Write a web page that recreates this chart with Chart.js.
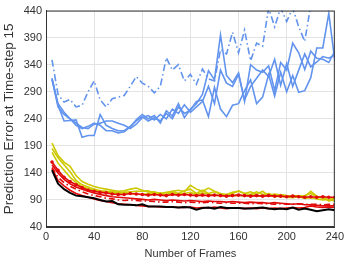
<!DOCTYPE html>
<html>
<head>
<meta charset="utf-8">
<script src="https://cdn.jsdelivr.net/npm/chart.js@4"></script>
<style>
  html, body { margin: 0; padding: 0; background: #fff; }
  #wrap { width: 347px; height: 263px; }
</style>
</head>
<body>
<div id="wrap"><canvas id="chart"></canvas></div>
<script>
const frames = [5, 10, 15, 20, 25, 30, 35, 40, 45, 50, 55, 60, 65, 70, 75, 80, 85, 90, 95, 100,
  105, 110, 115, 120, 125, 130, 135, 140, 145, 150, 155, 160, 165, 170, 175, 180, 185, 190, 195, 200,
  205, 210, 215, 220, 225, 230, 235, 240];

const blueDash = [349, 285, 271, 276, 262, 265, 290, 310, 275, 262, 277, 280, 283, 300, 318, 306, 300, 288, 300, 353,
  330, 340, 310, 322, 304, 332, 314, 310, 368, 360, 400, 362, 404, 347, 380, 374, 445, 410, 445, 420,
  445, 410, 383, 450, 460, 460, 460, 460];
const blue1 = [315, 262, 248, 240, 228, 222, 226, 232, 228, 218, 218, 214, 216, 225, 238, 248, 240, 246, 232, 255,
  245, 268, 242, 258, 268, 285, 329, 312, 395, 320, 307, 325, 272, 340, 330, 326, 338, 292, 344, 330,
  380, 362, 331, 365, 352, 350, 344, 365];
const blue2 = [312, 265, 236, 237, 238, 206, 209, 209, 248, 228, 222, 218, 218, 226, 236, 244, 236, 242, 236, 250,
  240, 262, 250, 256, 272, 275, 244, 298, 258, 244, 265, 268, 292, 312, 268, 280, 322, 282, 326, 290,
  320, 289, 292, 316, 371, 371, 435, 347];
const blue3 = [314, 268, 252, 240, 232, 224, 222, 230, 232, 236, 236, 232, 228, 222, 230, 242, 246, 238, 248, 240,
  258, 250, 266, 252, 262, 272, 300, 268, 330, 306, 300, 322, 275, 300, 315, 330, 318, 350, 302, 342,
  300, 330, 360, 336, 345, 355, 352, 358];

const yellow1 = [195, 172, 160, 152, 135, 124, 119, 115, 112, 110, 108, 106, 107, 110, 112, 108, 105, 105, 102, 104,
  106, 108, 105, 117, 110, 106, 112, 106, 102, 100, 104, 106, 102, 100, 105, 100, 102, 98, 100, 98,
  97, 98, 96, 106, 97, 93, 95, 91];
const yellow2 = [185, 168, 155, 142, 126, 118, 114, 110, 107, 106, 105, 104, 104, 105, 106, 106, 107, 102, 103, 100,
  106, 102, 107, 110, 102, 108, 102, 105, 101, 99, 102, 107, 102, 105, 100, 106, 98, 101, 99, 96,
  98, 97, 98, 102, 96, 96, 88, 92];
const yellow3 = [178, 158, 145, 132, 122, 114, 111, 108, 106, 104, 103, 101, 104, 102, 101, 100, 102, 103, 100, 99,
  103, 101, 102, 104, 100, 103, 101, 99, 98, 100, 98, 99, 97, 100, 98, 97, 99, 96, 97, 95,
  94, 96, 93, 94, 92, 90, 91, 88];

const red1 = [160, 145, 132, 124, 118, 113, 108, 106, 104, 103, 101, 100, 100, 102, 101, 100, 99, 100, 99, 98,
  100, 99, 100, 99, 98, 99, 98, 99, 98, 97, 98, 99, 98, 97, 98, 97, 98, 97, 97, 96,
  97, 96, 95, 96, 95, 96, 95, 95];
const red2 = [155, 140, 128, 120, 114, 110, 106, 103, 100, 98, 96, 95, 94, 93, 92, 91, 90, 91, 90, 89,
  90, 89, 88, 89, 88, 87, 88, 87, 87, 86, 87, 86, 85, 86, 85, 85, 84, 85, 84, 83,
  82, 83, 81, 81, 80, 79, 79, 79];
const redDash = [150, 132, 122, 115, 110, 105, 101, 98, 96, 93, 92, 90, 89, 90, 89, 88, 88, 87, 86, 86,
  87, 86, 85, 86, 85, 85, 86, 85, 84, 85, 84, 84, 84, 83, 84, 83, 83, 82, 83, 82,
  82, 83, 82, 82, 82, 81, 82, 82];
const red3 = [148, 126, 116, 108, 102, 98, 95, 92, 89, 87, 85, 83, 82, 81, 80, 79, 78, 78, 77, 77,
  77, 76, 76, 77, 75, 76, 75, 77, 75, 74, 75, 75, 74, 75, 74, 75, 74, 75, 74, 75,
  76, 75, 76, 79, 77, 76, 77, 76];

const black1 = [145, 120, 110, 103, 98, 97, 95, 93, 90, 87, 88, 82, 81, 81, 80, 82, 78, 78, 78, 77,
  77, 76, 77, 76, 72, 75, 76, 74, 77, 75, 75, 75, 74, 74, 75, 76, 74, 73, 74, 73,
  76, 72, 74, 72, 69, 71, 73, 71];

const xTicks = [0, 40, 80, 120, 160, 200, 240];
const yTicks = [40, 90, 140, 190, 240, 290, 340, 390, 440];

const BLUE = "rgb(98, 148, 238)";
const YELLOW = "rgb(205, 200, 0)";
const RED = "rgb(225, 10, 10)";

function series(values, color, extra) {
  return Object.assign({
    data: values.map((v, i) => ({ x: frames[i], y: v })),
    borderColor: color,
    backgroundColor: color,
    borderWidth: 1.6,
    pointRadius: 0,
    tension: 0,
    fill: false,
  }, extra || {});
}

const boxPlugin = {
  id: "box",
  afterDraw(chart) {
    const a = chart.chartArea;
    const ctx = chart.ctx;
    ctx.save();
    ctx.strokeStyle = "#333";
    ctx.lineWidth = 1;
    ctx.strokeRect(a.left + 0.5, a.top + 0.5, a.right - a.left - 1, a.bottom - a.top - 1);
    ctx.restore();
  },
};

const data = {
  datasets: [
    series(black1, "#000", { borderWidth: 2 }),
    series(red3, RED),
    series(redDash, RED, { borderDash: [6, 3, 1.5, 3] }),
    series(red2, RED),
    series(red1, RED, { pointRadius: 1 }),
    series(yellow3, YELLOW),
    series(yellow2, YELLOW),
    series(yellow1, YELLOW),
    series(blue3, BLUE),
    series(blue2, BLUE),
    series(blue1, BLUE),
    series(blueDash, BLUE, { borderDash: [7, 3, 1.5, 3] }),
  ],
};

const tickFont = { family: "'Liberation Sans', Arial, sans-serif", size: 11 };
const yTitleFont = { family: "'Liberation Sans', Arial, sans-serif", size: 13.5 };

const config = {
  type: "line",
  data: data,
  options: {
    responsive: true,
    maintainAspectRatio: false,
    animation: false,
    layout: { padding: { top: 7, right: 12, left: 0, bottom: 0 } },
    plugins: {
      legend: { display: false },
      tooltip: { enabled: false },
    },
    scales: {
      x: {
        type: "linear",
        min: 0,
        max: 240,
        afterBuildTicks: (s) => { s.ticks = xTicks.map((v) => ({ value: v })); },
        afterFit: (s) => { s.height = 36; },
        grid: { color: "#e3e3e3", drawTicks: false },
        border: { color: "#333" },
        ticks: { font: tickFont, color: "#333", padding: 3, maxRotation: 0 },
        title: { display: true, text: "Number of Frames", font: tickFont, color: "#333", padding: { top: 0, bottom: 2 } },
      },
      y: {
        min: 40,
        max: 440,
        afterBuildTicks: (s) => { s.ticks = yTicks.map((v) => ({ value: v })); },
        afterFit: (s) => { s.width = 46; },
        grid: { color: "#e3e3e3", drawTicks: false },
        border: { color: "#333" },
        ticks: { font: tickFont, color: "#333", padding: 4 },
        title: { display: true, text: "Prediction Error at Time-step 15", font: yTitleFont, color: "#333", padding: { top: 1, bottom: 0 } },
      },
    },
  },
  plugins: [boxPlugin],
};

new Chart(document.getElementById("chart"), config);
</script>
</body>
</html>
